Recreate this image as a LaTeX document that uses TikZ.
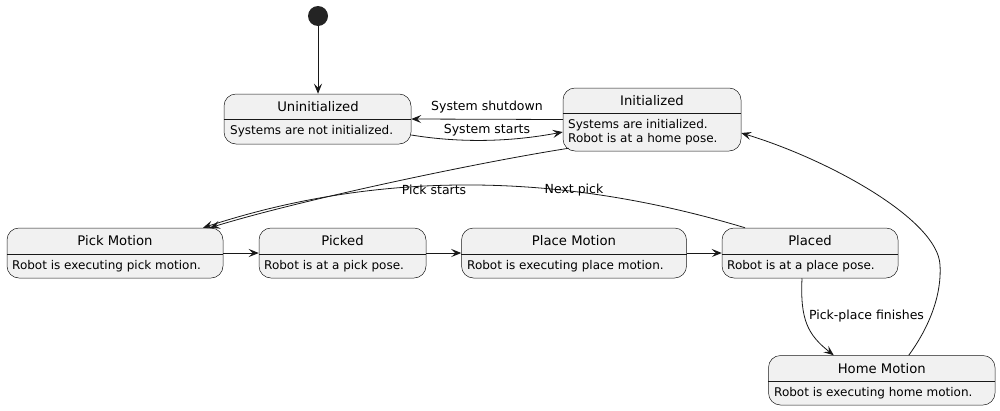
\documentclass[tikz,border=0pt]{standalone}
\usepackage{fontspec}
\setmainfont{DejaVu Sans}
\usetikzlibrary{arrows.meta,fit}

\definecolor{statefill}{HTML}{F1F1F1}
\definecolor{edgecol}{HTML}{181818}

\begin{document}
\begin{tikzpicture}[x=1pt, y=-1pt,
    statebox/.style={draw=edgecol, line width=0.5pt, fill=statefill, rounded corners=12pt, inner sep=0pt},
    statename/.style={font=\fontsize{13.2}{15}\selectfont, inner sep=0pt},
    statetext/.style={font=\fontsize{12}{14}\selectfont, inner sep=0pt, anchor=west, align=left},
    edgetext/.style={font=\fontsize{12.5}{14}\selectfont, inner sep=0pt},
    sepline/.style={draw=edgecol, line width=0.5pt},
    trans/.style={draw=edgecol, line width=0.8pt, -{Stealth[length=10pt,width=8pt,inset=4pt]}}]

  \useasboundingbox (0,0) rectangle (1000,410);

  % Start point
  \node (start) [circle, fill=edgecol!95, minimum size=20pt, inner sep=0pt] at (318,16) {};

  % States
  \node (uninit) [statebox, fit={(224,94) (411,144)}] {};
  \draw[sepline] (uninit.west |- 0,119) -- (uninit.east |- 0,119);
  \node (uninit-name) [statename] at (318,107) {Uninitialized};
  \node (uninit-text) [statetext] at (230,131.5) {Systems are not initialized.};

  \node (initd) [statebox, fit={(563,88) (741,151)}] {};
  \draw[sepline] (initd.west |- 0,113) -- (initd.east |- 0,113);
  \node (initd-name) [statename] at (652,100.5) {Initialized};
  \node (initd-text) [statetext] at (568,132) {Systems are initialized.\\Robot is at a home pose.};

  \node (pickm) [statebox, fit={(7,228) (223,278)}] {};
  \draw[sepline] (pickm.west |- 0,254) -- (pickm.east |- 0,254);
  \node (pickm-name) [statename] at (115,241) {Pick Motion};
  \node (pickm-text) [statetext] at (12,266) {Robot is executing pick motion.};

  \node (picked) [statebox, fit={(259,228) (426,278)}] {};
  \draw[sepline] (picked.west |- 0,254) -- (picked.east |- 0,254);
  \node (picked-name) [statename] at (342.5,241) {Picked};
  \node (picked-text) [statetext] at (264,266) {Robot is at a pick pose.};

  \node (placem) [statebox, fit={(461.5,228) (686.5,278)}] {};
  \draw[sepline] (placem.west |- 0,254) -- (placem.east |- 0,254);
  \node (placem-name) [statename] at (574,241) {Place Motion};
  \node (placem-text) [statetext] at (467,266) {Robot is executing place motion.};

  \node (placed) [statebox, fit={(722,228) (898,278)}] {};
  \draw[sepline] (placed.west |- 0,254) -- (placed.east |- 0,254);
  \node (placed-name) [statename] at (810,241) {Placed};
  \node (placed-text) [statetext] at (727,266) {Robot is at a place pose.};

  \node (homem) [statebox, fit={(768.5,355.5) (995,405)}] {};
  \draw[sepline] (homem.west |- 0,381.5) -- (homem.east |- 0,381.5);
  \node (homem-name) [statename] at (881.75,368.5) {Home Motion};
  \node (homem-text) [statetext] at (774,393.5) {Robot is executing home motion.};

  % Transitions
  \draw[trans] (start) -- (start |- uninit.north);
  \draw[trans] (initd.west) -- (uninit.east);
  \draw[trans] (uninit.east |- 0,135) .. controls (460,143) and (510,142) .. (initd.west |- 0,132);
  \draw[trans] ([shift={(6,-3)}]initd.south west) .. controls (480,162) and (300,200) .. ([xshift=95pt]pickm.north);
  \draw[trans] ([xshift=-65pt]placed.north) .. controls (560,172) and (380,170) .. ([xshift=88pt]pickm.north);
  \draw[trans] (pickm) -- (picked);
  \draw[trans] (picked) -- (placem);
  \draw[trans] (placem) -- (placed);
  \draw[trans] ([xshift=-8pt]placed.south) .. controls (800,320) and (808,335) .. ([xshift=-48pt]homem.north);
  \coordinate (bend) at (940,265);
  \draw[trans] ([xshift=27pt]homem.north) .. controls (925,333) and (942,300) .. (bend)
    .. controls (938,220) and (830,160) .. (initd.east |- 0,133);

  % Labels
  \node (shutdown-lbl) [edgetext] at (487,107) {System shutdown};
  \node (starts-lbl) [edgetext] at (487,130.5) {System starts};
  \node (pick-lbl) [edgetext] at (434,190) {Pick starts};
  \node (next-lbl) [edgetext] at (574,190.5) {Next pick};
  \node (finish-lbl) [edgetext] at (866.5,316) {Pick-place finishes};

\end{tikzpicture}
\end{document}
